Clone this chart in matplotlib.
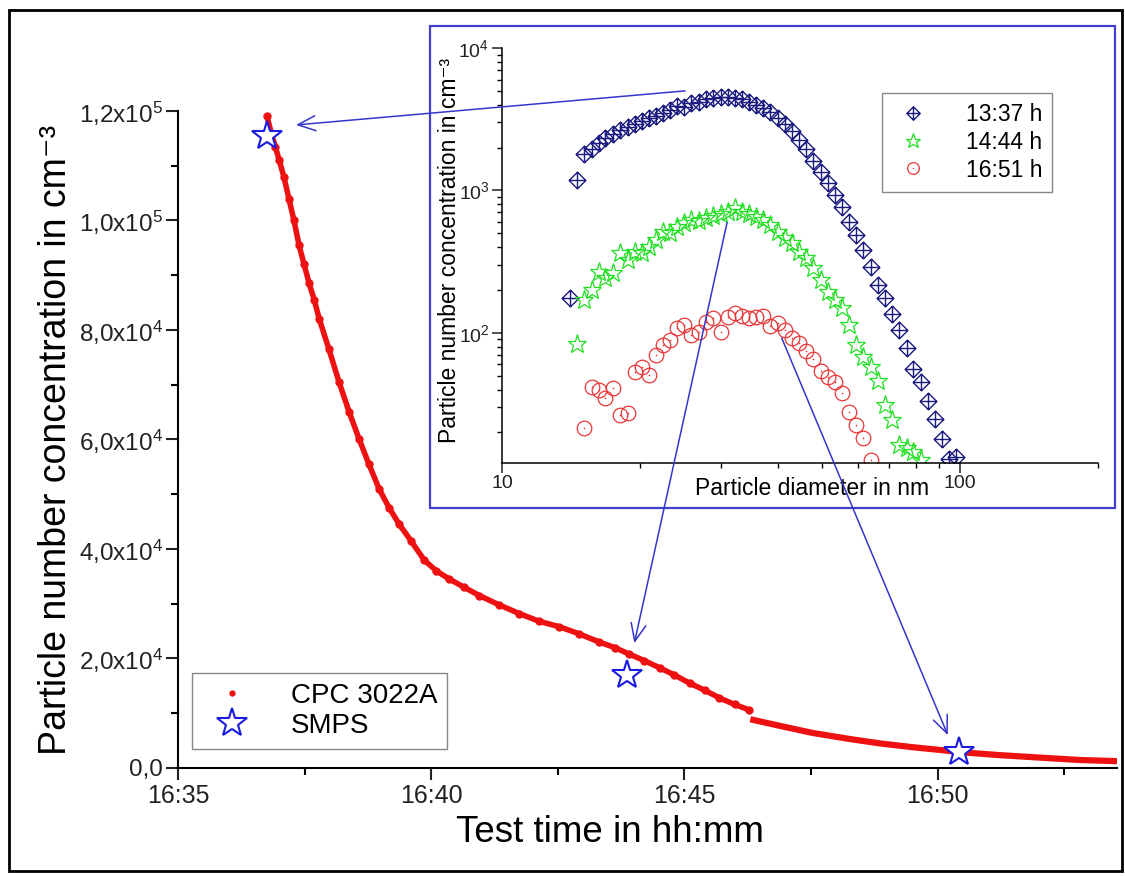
import numpy as np
import matplotlib
matplotlib.use('Agg')
import matplotlib.pyplot as plt
from matplotlib.path import Path
from matplotlib.lines import Line2D
from matplotlib.patches import ConnectionPatch, Rectangle
from matplotlib.ticker import MultipleLocator, FuncFormatter, LogLocator, NullFormatter

plt.rcParams['font.family'] = ['Liberation Sans', 'DejaVu Sans']
plt.rcParams['mathtext.fontset'] = 'custom'
plt.rcParams['mathtext.rm'] = 'Liberation Sans'
plt.rcParams['mathtext.it'] = 'Liberation Sans:italic'
plt.rcParams['mathtext.bf'] = 'Liberation Sans:bold'
plt.rcParams['axes.unicode_minus'] = False

# CPC 3022A, time in minutes after 16:00, concentration in cm^-3
# segment 1 (noisy, before the step at ~16:46)
cpc_t1 = [36.76, 36.84, 36.92, 37.00, 37.09, 37.19, 37.29, 37.39, 37.49, 37.59,
          37.69, 37.79, 37.98, 38.18, 38.38, 38.58, 38.77, 38.97, 39.17, 39.37,
          39.60, 39.86, 40.10, 40.36, 40.65, 40.95, 41.34, 41.74, 42.13, 42.53,
          42.92, 43.32, 43.62, 43.91, 44.21, 44.51, 44.80, 45.10, 45.40, 45.69,
          45.99, 46.28]
cpc_n1 = [119000, 116000, 113500, 111000, 108000, 104000, 100000, 95500, 92000, 88500,
          85500, 82000, 76500, 70500, 65000, 60000, 55500, 51000, 47500, 44500,
          41500, 38000, 36000, 34500, 33000, 31500, 29800, 28200, 26800, 25800,
          24500, 23000, 22000, 20800, 19600, 18300, 17000, 15500, 14200, 12800,
          11600, 10600]
# segment 2 (smooth, after the step)
cpc_t2 = [46.30, 46.88, 47.53, 48.26, 48.85, 49.50, 50.04, 50.43, 51.22, 52.01, 52.80, 53.54]
cpc_n2 = [8900, 7700, 6400, 5300, 4500, 3800, 3300, 2900, 2350, 1900, 1460, 1250]

# SMPS sampling points
smps_t = [36.76, 43.87, 50.43]
smps_n = [115500, 17000, 2900]

# SMPS size distributions: channel midpoints in nm
diam = [14.1, 14.6, 15.1, 15.7, 16.3, 16.8, 17.5, 18.1, 18.8, 19.5, 20.2, 20.9,
        21.7, 22.5, 23.3, 24.1, 25.0, 25.9, 26.9, 27.9, 28.9, 30.0, 31.1, 32.2,
        33.4, 34.6, 35.9, 37.2, 38.5, 40.0, 41.4, 42.9, 44.5, 46.1, 47.8, 49.6,
        51.4, 53.3, 55.2, 57.3, 59.4, 61.5, 63.8, 66.1, 68.5, 71.0, 73.7, 76.4,
        79.1, 82.0, 85.1, 88.2, 91.4, 94.7, 98.2]
n_1337 = [175, 1180, 1800, 1950, 2150, 2350, 2500, 2650, 2800, 2950, 3050, 3200,
          3350, 3500, 3650, 3900, 3850, 4100, 4200, 4350, 4450, 4550, 4500, 4450,
          4350, 4200, 4000, 3800, 3550, 3250, 2950, 2600, 2250, 1950, 1600, 1350,
          1120, 930, 760, 600, 490, 380, 290, 215, 175, 135, 105, 78,
          56, 45, 33, 25, 18, 13, 13.5]
n_1444 = [84, 171, 200, 269, 242, 262, 362, 325, 372, 362, 403,
          450, 514, 501, 557, 589, 621, 610, 640, 660, 680, 710, 750,
          710, 680, 650, 620, 570, 514, 462, 427, 372, 334, 284, 235,
          195, 170, 149, 114, 82, 68, 58, 45.6, 31, 24.5, 16.4, 15.5,
          14.5, 12.8]
n_1651 = [21.4, 42, 39.8, 34.8, 41, 26.6, 27.3, 53.5, 58, 50.7,
          70, 82, 89, 108, 114, 97, 102, 120, 127, 102, 130, 137,
          132, 127, 130, 132, 111, 117, 105, 92, 85, 74, 65, 54,
          49, 45.5, 38, 28, 22.6, 18.2, 12.8]
d_1337 = diam[0:len(n_1337)]
d_1444 = diam[1:1 + len(n_1444)]
d_1651 = diam[2:2 + len(n_1651)]

# arrows: start in the inset (nm, cm^-3) -> end on the main plot (min, cm^-3)
arrow_from = [(25.1, 5000), (31.0, 595), (40.8, 92)]
arrow_to = [(37.33, 117450), (44.01, 22800), (50.20, 6000)]

RED = '#ee1111'
STARBLUE = '#1a1ae0'
NAVY = '#1c1c80'
GREEN = '#22e022'
CIRC = '#e83535'
ARROW = '#3535cc'

fig = plt.figure(figsize=(11.25, 8.76), dpi=100)

# ---------------- main plot ----------------
ax = fig.add_axes([0.1582, 0.1233, 0.8347, 0.75])
ax.plot(cpc_t1, cpc_n1, color=RED, lw=4, marker='o', ms=5, zorder=2)
ax.plot(cpc_t2, cpc_n2, color=RED, lw=4.5, solid_capstyle='butt', zorder=2)
ax.plot(smps_t, smps_n, ls='none', marker='*', ms=22, mfc='white',
        mec=STARBLUE, mew=1.5, zorder=4)

ax.set_xlim(35, 53.54)
ax.set_ylim(0, 1.2e5)
for s in ['top', 'right']:
    ax.spines[s].set_visible(False)
for s in ['left', 'bottom']:
    ax.spines[s].set_linewidth(1.5)
ax.xaxis.set_major_locator(MultipleLocator(5))
ax.xaxis.set_minor_locator(MultipleLocator(2.5))
ax.yaxis.set_major_locator(MultipleLocator(2e4))
ax.yaxis.set_minor_locator(MultipleLocator(1e4))
ax.xaxis.set_major_formatter(FuncFormatter(lambda v, p: f'16:{int(round(v)):02d}'))


def sci_comma(v, p):
    if abs(v) < 1e-6:
        return '0,0'
    if v < 0:
        return ''
    e = int(np.floor(np.log10(v)))
    m = v / 10 ** e
    return f'{m:.1f}'.replace('.', ',') + 'x10$^{%d}$' % e


ax.yaxis.set_major_formatter(FuncFormatter(sci_comma))
ax.tick_params(which='major', length=8.5, width=1.5, pad=2.5, colors='#222222')
ax.tick_params(which='minor', length=5, width=1.5)
ax.tick_params(axis='y', labelsize=17.5)
ax.tick_params(axis='x', labelsize=18, pad=3)

ax.set_ylabel('Particle number concentration in cm\u207b\u00b3', fontsize=27)
ax.yaxis.set_label_coords(-0.111, 0.5)
ax.set_xlabel('Test time in hh:mm', fontsize=26.5)
ax.xaxis.set_label_coords(0.46, -0.072)

h_cpc = Line2D([], [], ls='none', marker='o', ms=3.5, color=RED)
h_smps = Line2D([], [], ls='none', marker='*', ms=22, mfc='white', mec=STARBLUE, mew=1.5)
leg = ax.legend([h_cpc, h_smps], ['CPC 3022A', 'SMPS'], loc='lower left',
                bbox_to_anchor=(0.0149, 0.029), borderaxespad=0, fontsize=20,
                fancybox=False, edgecolor='#888888', framealpha=1,
                handlelength=2.2, handletextpad=1.0, labelspacing=0.15, borderpad=0.35)
leg.get_frame().set_linewidth(1.0)

# ---------------- inset ----------------
frame = Rectangle((0.3822, 0.4201), 0.6089, 0.5502, transform=fig.transFigure,
                  facecolor='white', edgecolor='#4040cc', lw=1.6, zorder=3)
fig.add_artist(frame)

ax_in = fig.add_axes([0.4462, 0.4715, 0.5298, 0.4737])
ax_in.set_zorder(4)
ax_in.patch.set_alpha(0)

dplus = Path([(0, 1), (1, 0), (0, -1), (-1, 0), (0, 1), (0, 1), (0, -1), (-1, 0), (1, 0)],
             [Path.MOVETO, Path.LINETO, Path.LINETO, Path.LINETO, Path.CLOSEPOLY,
              Path.MOVETO, Path.LINETO, Path.MOVETO, Path.LINETO])

l1, = ax_in.plot(d_1337, n_1337, ls='none', marker=dplus, ms=12, mfc='none',
                 mec=NAVY, mew=1.0)
l2, = ax_in.plot(d_1444, n_1444, ls='none', marker='*', ms=14, mfc='none',
                 mec=GREEN, mew=0.9)
l3, = ax_in.plot(d_1651, n_1651, ls='none', marker='o', ms=10.5, mfc='none',
                 mec=CIRC, mew=0.9)
l3d, = ax_in.plot(d_1651, n_1651, ls='none', marker='o', ms=1.2, color=CIRC, mew=0)

ax_in.set_xscale('log')
ax_in.set_yscale('log')
ax_in.set_xlim(10, 200)
ax_in.set_ylim(12.2, 1e4)
for s in ['top', 'right']:
    ax_in.spines[s].set_visible(False)
for s in ['left', 'bottom']:
    ax_in.spines[s].set_linewidth(1.1)
ax_in.xaxis.set_major_locator(LogLocator(base=10, numticks=5))
ax_in.xaxis.set_minor_locator(LogLocator(base=10, subs=np.arange(2, 10), numticks=10))
ax_in.xaxis.set_major_formatter(FuncFormatter(lambda v, p: f'{v:.0f}'))
ax_in.xaxis.set_minor_formatter(NullFormatter())
ax_in.yaxis.set_major_locator(LogLocator(base=10, numticks=5))
ax_in.yaxis.set_minor_locator(LogLocator(base=10, subs=np.arange(2, 10), numticks=10))
ax_in.yaxis.set_minor_formatter(NullFormatter())
ax_in.tick_params(which='major', length=7, width=1.1, pad=2, labelsize=14, colors='#222222')
ax_in.tick_params(which='minor', length=3.5, width=1.0)

ax_in.set_ylabel('Particle number concentration in cm\u207b\u00b3', fontsize=16.5)
ax_in.yaxis.set_label_coords(-0.068, 0.513)
ax_in.set_xlabel('Particle diameter in nm', fontsize=16.5)
ax_in.xaxis.set_label_coords(0.52, -0.035)

leg_in = ax_in.legend([l1, l2, (l3, l3d)], ['13:37 h', '14:44 h', '16:51 h'],
                      loc='upper left', bbox_to_anchor=(0.784, 0.8938),
                      bbox_transform=fig.transFigure, borderaxespad=0, fontsize=16.5,
                      fancybox=False, edgecolor='#888888', framealpha=1,
                      handlelength=1.8, handletextpad=1.4, labelspacing=0.2,
                      borderpad=0.45, markerscale=0.8)
leg_in.get_frame().set_linewidth(1.0)

# ---------------- arrows ----------------
for a, b in zip(arrow_from, arrow_to):
    con = ConnectionPatch(xyA=a, coordsA=ax_in.transData, xyB=b, coordsB=ax.transData,
                          arrowstyle='->,head_length=0.7,head_width=0.3',
                          mutation_scale=18, color=ARROW, lw=1.1,
                          shrinkA=0, shrinkB=0, zorder=6)
    fig.add_artist(con)

# outer border
fig.add_artist(Rectangle((0.0076, 0.0057), 0.9898, 0.983, transform=fig.transFigure,
                         fill=False, edgecolor='black', lw=2, zorder=10))

fig.savefig('out.png', dpi=100)
